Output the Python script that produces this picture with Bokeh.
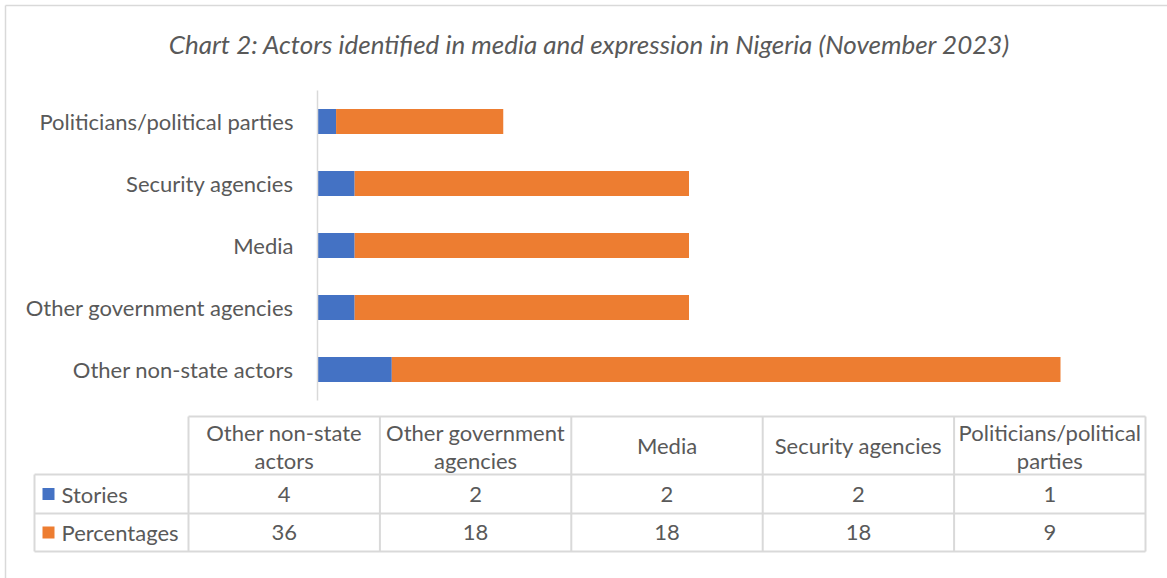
from bokeh.plotting import figure
from bokeh.models import Range1d
from bokeh.core.properties import value
from bokeh.embed import file_html
from bokeh.resources import INLINE

# ---- data ----
categories = ["Other non-state actors", "Other government agencies", "Media",
              "Security agencies", "Politicians/political parties"]
stories = [4, 2, 2, 2, 1]
percentages = [36, 18, 18, 18, 9]
series_names = ["Stories", "Percentages"]
header_wrap = {
    "Other non-state actors": ["Other non-state", "actors"],
    "Other government agencies": ["Other government", "agencies"],
    "Media": ["Media"],
    "Security agencies": ["Security agencies"],
    "Politicians/political parties": ["Politicians/political", "parties"],
}
title = "Chart 2: Actors identified in media and expression in Nigeria (November 2023)"

BLUE = "#4472C4"
ORANGE = "#ED7D31"
TXT = "#595959"
GRID = "#D9D9D9"
FONT = value("Lato")
FS = "22px"

W, H = 1167, 578
# value scale: 0 at x=317, 18.575 px per unit
x0_img, ppu = 317.0, 18.575
# category scale: index 0 (top) at y=121, 62 px per category
y0_img, ppc = 121.0, 62.0

p = figure(width=W, height=H, output_backend="svg", toolbar_location=None,
           x_range=Range1d((0 - x0_img) / ppu, (W - x0_img) / ppu),
           y_range=Range1d((H - y0_img) / ppc, (0 - y0_img) / ppc),
           min_border=0, background_fill_color="white", border_fill_color="white")
p.extra_x_ranges = {"px": Range1d(0, W)}
p.extra_y_ranges = {"py": Range1d(H, 0)}
p.xaxis.visible = False
p.yaxis.visible = False
p.grid.visible = False
p.outline_line_color = None

n = len(categories)
ypos = [n - 1 - i for i in range(n)]
left2 = stories
right2 = [s + q for s, q in zip(stories, percentages)]

# chart border (left + top)
p.segment(x0=[5, 5], y0=[5, 5], x1=[5, W], y1=[H, 5],
          x_range_name="px", y_range_name="py", line_color=GRID, line_width=1.5)

# title
p.text(x=[589], y=[43], text=[title], x_range_name="px", y_range_name="py",
       text_font=FONT, text_font_style="italic", text_font_size="26px",
       text_color=TXT, text_align="center", text_baseline="middle")

# bars
bh = 25 / ppc
p.hbar(y=ypos, left=0, right=stories, height=bh, fill_color=BLUE, line_color=None)
p.hbar(y=ypos, left=left2, right=right2, height=bh, fill_color=ORANGE, line_color=None)

# vertical axis line
p.segment(x0=[0], x1=[0], y0=[90], y1=[400], y_range_name="py",
          line_color=GRID, line_width=1.5)

# category labels
p.text(x=[293] * n, y=ypos, text=categories, x_range_name="px",
       text_font=FONT, text_font_size=FS, text_color=TXT,
       text_align="right", text_baseline="middle")

# ---- data table ----
tx0, tx1 = 188.0, 1145.0
cw = (tx1 - tx0) / n
lx = 34.0
r_top, r1, r2, r_bot = 416.0, 474.0, 513.0, 551.0

xs0, ys0, xs1, ys1 = [], [], [], []
for yy, xa in [(r_top, tx0), (r1, lx), (r2, lx), (r_bot, lx)]:
    xs0.append(xa); xs1.append(tx1); ys0.append(yy); ys1.append(yy)
xs0.append(lx); xs1.append(lx); ys0.append(r1); ys1.append(r_bot)
for j in range(n + 1):
    xx = tx0 + j * cw
    xs0.append(xx); xs1.append(xx); ys0.append(r_top); ys1.append(r_bot)
p.segment(x0=xs0, y0=ys0, x1=xs1, y1=ys1, x_range_name="px", y_range_name="py",
          line_color=GRID, line_width=2)

cx = [tx0 + (j + 0.5) * cw for j in range(n)]
hx, hy, ht = [], [], []
for j, c in enumerate(categories):
    lines = header_wrap[c]
    if len(lines) == 1:
        hx.append(cx[j]); hy.append((r_top + r1) / 2); ht.append(lines[0])
    else:
        hx += [cx[j], cx[j]]; hy += [432, 460]; ht += lines
p.text(x=hx, y=hy, text=ht, x_range_name="px", y_range_name="py",
       text_font=FONT, text_font_size=FS, text_color=TXT,
       text_align="center", text_baseline="middle")

for vals, yy in [(stories, (r1 + r2) / 2), (percentages, (r2 + r_bot) / 2)]:
    p.text(x=cx, y=[yy] * n, text=[str(v) for v in vals], x_range_name="px",
           y_range_name="py", text_font=FONT, text_font_size=FS,
           text_color=TXT, text_align="center", text_baseline="middle")

# legend keys in table
ry = [(r1 + r2) / 2, (r2 + r_bot) / 2]
p.rect(x=[48, 48], y=ry, width=12, height=12, x_range_name="px", y_range_name="py",
       width_units="screen", height_units="screen",
       fill_color=[BLUE, ORANGE], line_color=None)
p.text(x=[61, 61], y=ry, text=series_names, x_range_name="px", y_range_name="py",
       text_font=FONT, text_font_size=FS, text_color=TXT,
       text_align="left", text_baseline="middle")

open("out.html", "w").write(file_html(p, INLINE))
